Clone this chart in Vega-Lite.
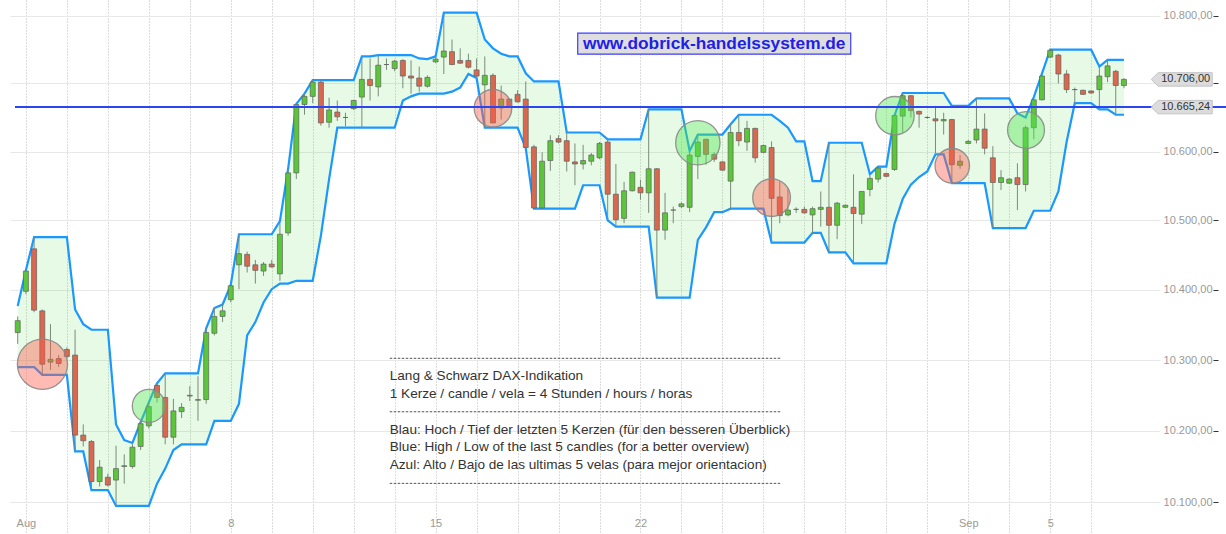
{
"$schema":"https://vega.github.io/schema/vega-lite/v6.json",
"width":1150,"height":534,
"autosize":{"type":"none"},
"padding":{"left":10,"right":66,"top":0,"bottom":0},
"background":"white",
"config":{"view":{"stroke":null},"font":"Liberation Sans"},
"datasets":{
"candles":[
{"t":-0.2,"o":10339,"h":10362,"l":10323,"c":10356,"up":10377,"lo":10290},
{"t":0,"o":10398,"h":10428,"l":10394,"c":10427,"up":10428,"lo":10290},
{"t":0.2,"o":10459,"h":10476,"l":10368,"c":10371,"up":10476,"lo":10290},
{"t":0.4,"o":10370,"h":10372,"l":10279,"c":10294,"up":10476,"lo":10279},
{"t":0.6,"o":10297,"h":10351,"l":10286,"c":10301,"up":10476,"lo":10279},
{"t":0.8,"o":10302,"h":10307,"l":10290,"c":10295,"up":10476,"lo":10279},
{"t":1,"o":10315,"h":10318,"l":10303,"c":10305,"up":10476,"lo":10279},
{"t":1.2,"o":10307,"h":10343,"l":10171,"c":10194,"up":10372,"lo":10171},
{"t":1.4,"o":10194,"h":10209,"l":10178,"c":10186,"up":10351,"lo":10171},
{"t":1.6,"o":10185,"h":10187,"l":10117,"c":10129,"up":10343,"lo":10117},
{"t":1.8,"o":10129,"h":10159,"l":10122,"c":10149,"up":10343,"lo":10117},
{"t":2,"o":10135,"h":10140,"l":10122,"c":10124,"up":10343,"lo":10117},
{"t":2.2,"o":10131,"h":10179,"l":10095,"c":10147,"up":10209,"lo":10095},
{"t":2.4,"o":10150,"h":10167,"l":10126,"c":10151,"up":10187,"lo":10095},
{"t":2.6,"o":10150,"h":10182,"l":10147,"c":10177,"up":10183,"lo":10095},
{"t":2.8,"o":10178,"h":10212,"l":10173,"c":10210,"up":10212,"lo":10095},
{"t":3,"o":10207,"h":10240,"l":10203,"c":10234,"up":10240,"lo":10095},
{"t":3.2,"o":10264,"h":10267,"l":10240,"c":10247,"up":10267,"lo":10126},
{"t":3.4,"o":10247,"h":10281,"l":10181,"c":10191,"up":10281,"lo":10147},
{"t":3.6,"o":10191,"h":10245,"l":10181,"c":10228,"up":10281,"lo":10173},
{"t":3.8,"o":10227,"h":10239,"l":10218,"c":10233,"up":10281,"lo":10181},
{"t":4,"o":10249,"h":10263,"l":10242,"c":10250,"up":10281,"lo":10181},
{"t":4.2,"o":10243,"h":10277,"l":10214,"c":10244,"up":10281,"lo":10181},
{"t":4.4,"o":10244,"h":10345,"l":10238,"c":10339,"up":10345,"lo":10181},
{"t":4.6,"o":10338,"h":10374,"l":10335,"c":10362,"up":10374,"lo":10214},
{"t":4.8,"o":10362,"h":10379,"l":10354,"c":10370,"up":10379,"lo":10214},
{"t":5,"o":10386,"h":10407,"l":10382,"c":10406,"up":10407,"lo":10214},
{"t":5.2,"o":10436,"h":10480,"l":10401,"c":10452,"up":10480,"lo":10238},
{"t":5.4,"o":10451,"h":10455,"l":10425,"c":10434,"up":10480,"lo":10335},
{"t":5.6,"o":10436,"h":10443,"l":10409,"c":10428,"up":10480,"lo":10354},
{"t":5.8,"o":10427,"h":10440,"l":10420,"c":10437,"up":10480,"lo":10382},
{"t":6,"o":10437,"h":10443,"l":10432,"c":10433,"up":10480,"lo":10401},
{"t":6.2,"o":10423,"h":10499,"l":10413,"c":10480,"up":10499,"lo":10409},
{"t":6.4,"o":10482,"h":10575,"l":10478,"c":10569,"up":10575,"lo":10409},
{"t":6.6,"o":10569,"h":10670,"l":10560,"c":10669,"up":10670,"lo":10413},
{"t":6.8,"o":10669,"h":10685,"l":10654,"c":10681,"up":10685,"lo":10413},
{"t":7,"o":10681,"h":10705,"l":10671,"c":10702,"up":10705,"lo":10413},
{"t":7.2,"o":10702,"h":10705,"l":10638,"c":10642,"up":10705,"lo":10478},
{"t":7.4,"o":10643,"h":10679,"l":10635,"c":10661,"up":10705,"lo":10560},
{"t":7.6,"o":10658,"h":10675,"l":10645,"c":10651,"up":10705,"lo":10635},
{"t":7.8,"o":10650,"h":10657,"l":10637,"c":10650,"up":10705,"lo":10635},
{"t":8,"o":10663,"h":10676,"l":10661,"c":10675,"up":10705,"lo":10635},
{"t":8.2,"o":10680,"h":10740,"l":10635,"c":10706,"up":10740,"lo":10635},
{"t":8.4,"o":10706,"h":10737,"l":10675,"c":10697,"up":10740,"lo":10635},
{"t":8.6,"o":10695,"h":10742,"l":10681,"c":10727,"up":10742,"lo":10635},
{"t":8.8,"o":10728,"h":10737,"l":10720,"c":10728,"up":10742,"lo":10635},
{"t":9,"o":10722,"h":10735,"l":10718,"c":10733,"up":10742,"lo":10635},
{"t":9.2,"o":10734,"h":10736,"l":10693,"c":10711,"up":10742,"lo":10675},
{"t":9.4,"o":10711,"h":10734,"l":10685,"c":10708,"up":10742,"lo":10681},
{"t":9.6,"o":10708,"h":10725,"l":10688,"c":10696,"up":10737,"lo":10685},
{"t":9.8,"o":10696,"h":10712,"l":10694,"c":10709,"up":10736,"lo":10685},
{"t":10,"o":10732,"h":10740,"l":10730,"c":10736,"up":10740,"lo":10685},
{"t":10.2,"o":10739,"h":10805,"l":10714,"c":10748,"up":10805,"lo":10685},
{"t":10.4,"o":10747,"h":10765,"l":10727,"c":10728,"up":10805,"lo":10688},
{"t":10.6,"o":10734,"h":10752,"l":10729,"c":10730,"up":10805,"lo":10694},
{"t":10.8,"o":10734,"h":10744,"l":10722,"c":10724,"up":10805,"lo":10714},
{"t":11,"o":10720,"h":10737,"l":10708,"c":10711,"up":10805,"lo":10708},
{"t":11.2,"o":10698,"h":10740,"l":10635,"c":10712,"up":10765,"lo":10635},
{"t":11.4,"o":10712,"h":10715,"l":10642,"c":10642,"up":10752,"lo":10635},
{"t":11.6,"o":10664,"h":10697,"l":10647,"c":10677,"up":10744,"lo":10635},
{"t":11.8,"o":10677,"h":10678,"l":10664,"c":10666,"up":10740,"lo":10635},
{"t":12,"o":10684,"h":10690,"l":10672,"c":10673,"up":10740,"lo":10635},
{"t":12.2,"o":10677,"h":10703,"l":10605,"c":10606,"up":10715,"lo":10605},
{"t":12.4,"o":10607,"h":10610,"l":10517,"c":10518,"up":10703,"lo":10517},
{"t":12.6,"o":10518,"h":10599,"l":10517,"c":10586,"up":10703,"lo":10517},
{"t":12.8,"o":10587,"h":10624,"l":10572,"c":10616,"up":10703,"lo":10517},
{"t":13,"o":10619,"h":10624,"l":10612,"c":10614,"up":10703,"lo":10517},
{"t":13.2,"o":10616,"h":10628,"l":10571,"c":10586,"up":10628,"lo":10517},
{"t":13.4,"o":10585,"h":10612,"l":10551,"c":10582,"up":10628,"lo":10517},
{"t":13.6,"o":10582,"h":10610,"l":10574,"c":10587,"up":10628,"lo":10551},
{"t":13.8,"o":10586,"h":10598,"l":10580,"c":10595,"up":10628,"lo":10551},
{"t":14,"o":10591,"h":10614,"l":10589,"c":10612,"up":10628,"lo":10551},
{"t":14.2,"o":10614,"h":10618,"l":10500,"c":10538,"up":10618,"lo":10500},
{"t":14.4,"o":10538,"h":10582,"l":10491,"c":10501,"up":10618,"lo":10491},
{"t":14.6,"o":10503,"h":10556,"l":10496,"c":10543,"up":10618,"lo":10491},
{"t":14.8,"o":10543,"h":10571,"l":10542,"c":10570,"up":10618,"lo":10491},
{"t":15,"o":10548,"h":10559,"l":10530,"c":10540,"up":10618,"lo":10491},
{"t":15.2,"o":10540,"h":10662,"l":10511,"c":10575,"up":10662,"lo":10491},
{"t":15.4,"o":10575,"h":10576,"l":10389,"c":10486,"up":10662,"lo":10389},
{"t":15.6,"o":10486,"h":10540,"l":10472,"c":10511,"up":10662,"lo":10389},
{"t":15.8,"o":10515,"h":10520,"l":10496,"c":10515,"up":10662,"lo":10389},
{"t":16,"o":10520,"h":10526,"l":10518,"c":10524,"up":10662,"lo":10389},
{"t":16.2,"o":10519,"h":10601,"l":10512,"c":10595,"up":10601,"lo":10389},
{"t":16.4,"o":10593,"h":10625,"l":10560,"c":10614,"up":10625,"lo":10472},
{"t":16.6,"o":10618,"h":10619,"l":10581,"c":10596,"up":10625,"lo":10490},
{"t":16.8,"o":10596,"h":10599,"l":10585,"c":10589,"up":10625,"lo":10512},
{"t":17,"o":10585,"h":10586,"l":10572,"c":10573,"up":10625,"lo":10512},
{"t":17.2,"o":10557,"h":10640,"l":10517,"c":10628,"up":10640,"lo":10517},
{"t":17.4,"o":10628,"h":10654,"l":10608,"c":10616,"up":10654,"lo":10517},
{"t":17.6,"o":10614,"h":10645,"l":10601,"c":10634,"up":10654,"lo":10517},
{"t":17.8,"o":10634,"h":10635,"l":10584,"c":10591,"up":10654,"lo":10517},
{"t":18,"o":10599,"h":10610,"l":10598,"c":10609,"up":10654,"lo":10517},
{"t":18.2,"o":10606,"h":10615,"l":10468,"c":10532,"up":10654,"lo":10468},
{"t":18.4,"o":10534,"h":10557,"l":10496,"c":10507,"up":10645,"lo":10468},
{"t":18.6,"o":10508,"h":10547,"l":10506,"c":10515,"up":10635,"lo":10468},
{"t":18.8,"o":10516,"h":10519,"l":10511,"c":10516,"up":10615,"lo":10468},
{"t":19,"o":10516,"h":10520,"l":10510,"c":10511,"up":10615,"lo":10468},
{"t":19.2,"o":10508,"h":10520,"l":10482,"c":10517,"up":10557,"lo":10482},
{"t":19.4,"o":10516,"h":10542,"l":10491,"c":10519,"up":10557,"lo":10482},
{"t":19.6,"o":10519,"h":10613,"l":10454,"c":10493,"up":10613,"lo":10454},
{"t":19.8,"o":10493,"h":10527,"l":10473,"c":10525,"up":10613,"lo":10454},
{"t":20,"o":10519,"h":10523,"l":10518,"c":10522,"up":10613,"lo":10454},
{"t":20.2,"o":10519,"h":10567,"l":10438,"c":10510,"up":10613,"lo":10438},
{"t":20.4,"o":10509,"h":10542,"l":10495,"c":10542,"up":10613,"lo":10438},
{"t":20.6,"o":10545,"h":10565,"l":10535,"c":10561,"up":10567,"lo":10438},
{"t":20.8,"o":10560,"h":10578,"l":10555,"c":10576,"up":10578,"lo":10438},
{"t":21,"o":10568,"h":10569,"l":10563,"c":10564,"up":10578,"lo":10438},
{"t":21.2,"o":10574,"h":10653,"l":10572,"c":10653,"up":10653,"lo":10495},
{"t":21.4,"o":10652,"h":10686,"l":10628,"c":10682,"up":10686,"lo":10531},
{"t":21.6,"o":10682,"h":10683,"l":10650,"c":10660,"up":10686,"lo":10552},
{"t":21.8,"o":10659,"h":10660,"l":10635,"c":10655,"up":10686,"lo":10563},
{"t":22,"o":10650,"h":10652,"l":10648,"c":10650,"up":10686,"lo":10571},
{"t":22.2,"o":10648,"h":10667,"l":10598,"c":10645,"up":10686,"lo":10596},
{"t":22.4,"o":10645,"h":10657,"l":10625,"c":10647,"up":10686,"lo":10596},
{"t":22.6,"o":10647,"h":10648,"l":10554,"c":10581,"up":10667,"lo":10554},
{"t":22.8,"o":10580,"h":10595,"l":10575,"c":10586,"up":10667,"lo":10554},
{"t":23,"o":10612,"h":10617,"l":10611,"c":10615,"up":10667,"lo":10554},
{"t":23.2,"o":10617,"h":10678,"l":10612,"c":10633,"up":10678,"lo":10554},
{"t":23.4,"o":10633,"h":10656,"l":10596,"c":10605,"up":10678,"lo":10554},
{"t":23.6,"o":10591,"h":10608,"l":10489,"c":10555,"up":10678,"lo":10489},
{"t":23.8,"o":10555,"h":10573,"l":10544,"c":10562,"up":10678,"lo":10489},
{"t":24,"o":10554,"h":10561,"l":10553,"c":10560,"up":10678,"lo":10489},
{"t":24.2,"o":10562,"h":10583,"l":10515,"c":10552,"up":10656,"lo":10489},
{"t":24.4,"o":10552,"h":10638,"l":10542,"c":10635,"up":10650,"lo":10489},
{"t":24.6,"o":10635,"h":10676,"l":10618,"c":10676,"up":10680,"lo":10514},
{"t":24.8,"o":10676,"h":10712,"l":10675,"c":10711,"up":10715,"lo":10514},
{"t":25,"o":10739,"h":10750,"l":10738,"c":10749,"up":10750,"lo":10514},
{"t":25.2,"o":10742,"h":10744,"l":10700,"c":10714,"up":10750,"lo":10542},
{"t":25.4,"o":10714,"h":10720,"l":10686,"c":10691,"up":10750,"lo":10614},
{"t":25.6,"o":10691,"h":10694,"l":10671,"c":10691,"up":10750,"lo":10671},
{"t":25.8,"o":10690,"h":10691,"l":10683,"c":10684,"up":10750,"lo":10671},
{"t":26,"o":10689,"h":10690,"l":10685,"c":10686,"up":10750,"lo":10671},
{"t":26.2,"o":10691,"h":10725,"l":10661,"c":10711,"up":10725,"lo":10662},
{"t":26.4,"o":10710,"h":10735,"l":10702,"c":10726,"up":10735,"lo":10662},
{"t":26.6,"o":10718,"h":10720,"l":10654,"c":10697,"up":10735,"lo":10654},
{"t":26.8,"o":10697,"h":10708,"l":10693,"c":10706,"up":10735,"lo":10654}
],
"circles":[
{"t":0.404,"price":10294,"span":82,"kind":"down"},
{"t":3.0,"price":10235,"span":54,"kind":"up"},
{"t":11.40,"price":10663.5,"span":61.4,"kind":"down"},
{"t":16.40,"price":10613,"span":72.5,"kind":"up"},
{"t":18.20,"price":10533,"span":61.7,"kind":"down"},
{"t":21.21,"price":10652.6,"span":62.9,"kind":"up"},
{"t":22.61,"price":10579.4,"span":56.5,"kind":"down"},
{"t":24.41,"price":10631.6,"span":60.3,"kind":"up"}
],
"notes":[
{"t":8.88,"price":10277.3,"label":"Lang & Schwarz DAX-Indikation"},
{"t":8.88,"price":10252.5,"label":"1 Kerze / candle / vela = 4 Stunden / hours / horas"},
{"t":8.88,"price":10201.8,"label":"Blau: Hoch / Tief der letzten 5 Kerzen (für den besseren Überblick)"},
{"t":8.88,"price":10177.2,"label":"Blue: High / Low of the last 5 candles (for a better overview)"},
{"t":8.88,"price":10152.7,"label":"Azul: Alto / Bajo de las ultimas 5 velas (para mejor orientacion)"}
],
"dashes":[
{"t":8.88,"t2":18.41,"price":10302.4},
{"t":8.88,"t2":18.41,"price":10226.8},
{"t":8.88,"t2":18.41,"price":10126.4}
],
"level":[{"t":-0.266,"t2":29.3,"price":10665.24}],
"tags":[
{"t":28.21,"price":10706,"label":"10.706,00"},
{"t":28.21,"price":10665.24,"label":"10.665,24"}
],
"mark":[{"t":16.80,"price":10758.8,"label":"www.dobrick-handelssystem.de"}]
},
"data":{"name":"candles"},
"encoding":{
"x":{"field":"t","type":"quantitative","scale":{"domain":[-0.2661,27.558],"nice":false,"zero":false},
"axis":{"values":[0,1,2,3,4,5,6,7,8,9,10,11,12,13,14,15,16,17,18,19,20,21,22,23,24,25,26],
"grid":true,"gridDash":[1,2],"gridColor":"#b8b8b8","gridWidth":1,"domain":false,"ticks":false,"tickSize":0,
"labelExpr":"datum.value === 0 ? 'Aug' : datum.value === 5 ? '8' : datum.value === 10 ? '15' : datum.value === 15 ? '22' : datum.value === 23 ? 'Sep' : datum.value === 25 ? '5' : ''",
"labelColor":"#999999","labelFontSize":11,"labelFont":"Liberation Sans","labelPadding":-11,"labelBaseline":"middle","labelFlush":false,"labelOverlap":false,"title":null}}
},
"layer":[
{"mark":{"type":"area","color":"#2ed62e","opacity":0.12},
 "encoding":{"y":{"field":"lo","type":"quantitative","scale":{"type":"log","domain":[10056,10823.8],"nice":false},
  "axis":{"orient":"right","values":[10100,10200,10300,10400,10500,10600,10700,10800],"grid":true,"gridColor":"#e8e8e8","gridWidth":1,"domain":false,"ticks":false,"tickSize":0,"labelAlign":"right","labelPadding":52,"labelColor":"#999999","labelFontSize":11,"labelFont":"Liberation Sans",
  "labelExpr":"datum.value === 10700 ? '' : replace(replace(replace(format(datum.value, ',.2f'), ',', '#'), '.', ','), '#', '.')","title":null}},
  "y2":{"field":"up"}}},
{"mark":{"type":"line","color":"#1a98ff","strokeWidth":2.2},
 "encoding":{"y":{"field":"up","type":"quantitative","scale":{"type":"log","domain":[10056,10823.8],"nice":false},"axis":null}}},
{"mark":{"type":"line","color":"#1a98ff","strokeWidth":2.2},
 "encoding":{"y":{"field":"lo","type":"quantitative","scale":{"type":"log","domain":[10056,10823.8],"nice":false},"axis":null}}},
{"mark":{"type":"rule","color":"#7b8b7b","strokeWidth":1},
 "encoding":{"y":{"field":"l","type":"quantitative","scale":{"type":"log","domain":[10056,10823.8],"nice":false},"axis":null},"y2":{"field":"h"}}},
{"mark":{"type":"bar","size":5,"stroke":"#606060","strokeWidth":0.7},
 "encoding":{"y":{"field":"o","type":"quantitative","scale":{"type":"log","domain":[10056,10823.8],"nice":false},"axis":null},"y2":{"field":"c"},
  "color":{"condition":{"test":"datum.c >= datum.o","value":"#5cc63a"},"value":"#d9684e"}}},
{"data":{"name":"circles"},
 "mark":{"type":"point","shape":"circle","filled":true,"fillOpacity":0.42,"stroke":"#8a8a8a","strokeWidth":1.3,"strokeOpacity":0.9},
 "encoding":{"y":{"field":"price","type":"quantitative","scale":{"type":"log","domain":[10056,10823.8],"nice":false},"axis":null},
  "size":{"field":"span","type":"quantitative","scale":{"type":"pow","exponent":2,"domain":[0,100],"range":[0,3739]},"legend":null},
  "color":{"field":"kind","type":"nominal","scale":{"domain":["down","up"],"range":["#ff5a4a","#50e650"]},"legend":null}}},
{"data":{"name":"level"},
 "mark":{"type":"rule","color":"#2b45f2","strokeWidth":2},
 "encoding":{"x2":{"field":"t2"},"y":{"field":"price","type":"quantitative","scale":{"type":"log","domain":[10056,10823.8],"nice":false},
  "axis":{"orient":"right","offset":53,"values":[10100,10200,10300,10400,10500,10600,10700,10800],"labels":false,"grid":false,"domain":false,"ticks":true,"tickSize":5,"tickColor":"#333333","tickWidth":1,"title":null}}}},
{"data":{"name":"mark"},
 "mark":{"type":"point","shape":"M-1,-0.0769L1,-0.0769L1,0.0769L-1,0.0769Z","filled":true,"size":74529,"fill":"#dedede","stroke":"#3d3dff","strokeWidth":1.2,"opacity":1},
 "encoding":{"y":{"field":"price","type":"quantitative","scale":{"type":"log","domain":[10056,10823.8],"nice":false},"axis":null}}},
{"data":{"name":"mark"},
 "mark":{"type":"text","font":"Liberation Sans","fontWeight":"bold","fontSize":17.3,"color":"#1f1fe8","align":"center","baseline":"middle"},
 "encoding":{"y":{"field":"price","type":"quantitative","scale":{"type":"log","domain":[10056,10823.8],"nice":false},"axis":null},"text":{"field":"label"}}},
{"data":{"name":"dashes"},
 "mark":{"type":"rule","color":"#555555","strokeWidth":1,"strokeDash":[2.5,1.5]},
 "encoding":{"x2":{"field":"t2"},"y":{"field":"price","type":"quantitative","scale":{"type":"log","domain":[10056,10823.8],"nice":false},"axis":null}}},
{"data":{"name":"notes"},
 "mark":{"type":"text","font":"Liberation Sans","fontSize":13.6,"color":"#333333","align":"left","baseline":"middle"},
 "encoding":{"y":{"field":"price","type":"quantitative","scale":{"type":"log","domain":[10056,10823.8],"nice":false},"axis":null},"text":{"field":"label"}}},
{"data":{"name":"tags"},
 "mark":{"type":"point","shape":"M-1,0L-0.77,-0.22L1,-0.22L1,0.22L-0.77,0.22Z","filled":true,"size":3721,"fill":"#dcdcdc","stroke":"#c2c2c2","strokeWidth":1,"opacity":1},
 "encoding":{"y":{"field":"price","type":"quantitative","scale":{"type":"log","domain":[10056,10823.8],"nice":false},"axis":null}}},
{"data":{"name":"tags"},
 "mark":{"type":"text","font":"Liberation Sans","fontSize":11,"color":"#333333","align":"center","baseline":"middle","dx":4},
 "encoding":{"y":{"field":"price","type":"quantitative","scale":{"type":"log","domain":[10056,10823.8],"nice":false},"axis":null},"text":{"field":"label"}}}
],
"resolve":{"axis":{"y":"independent"}}
}
